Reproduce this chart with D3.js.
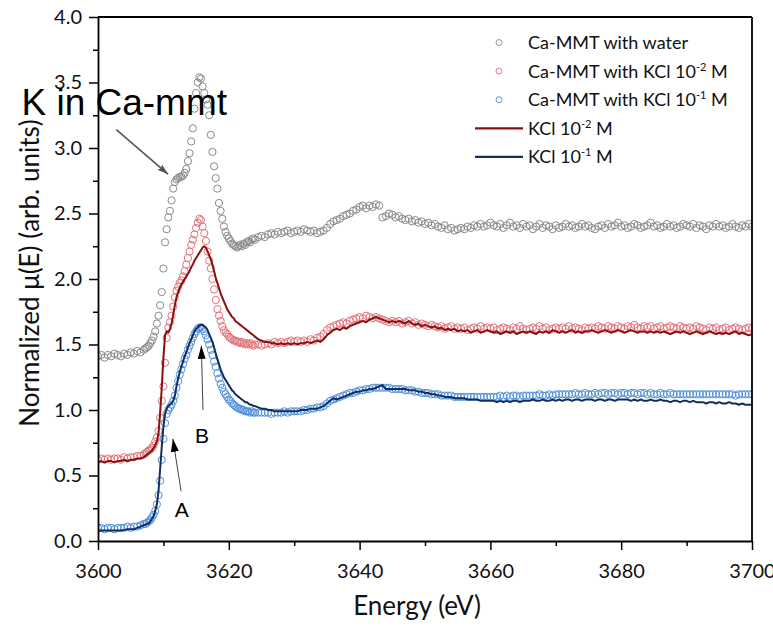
<!DOCTYPE html>
<html><head><meta charset="utf-8">
<script src="https://cdn.jsdelivr.net/npm/d3@7"></script>
<style>body{margin:0;background:#fff;} svg{display:block;}</style>
</head><body>
<svg id="chart" width="773" height="629"></svg>
<script>
// ---------------- DATA ----------------
const energy = [
3600,3600.5,3601,3601.5,3602,3602.5,3603,3603.5,3604,3604.5,3605,3605.5,3606,3606.5,3607,
3607.25,3607.5,3607.75,3608,
3608.25,3608.5,3608.75,3609,
3609.25,3609.5,3609.75,3610,
3610.25,3610.5,3610.75,3611,
3611.25,3611.5,3611.75,3612,
3612.25,3612.5,3612.75,3613,
3613.25,3613.5,3613.75,3614,
3614.25,3614.5,3614.75,3615,
3615.25,3615.5,3615.75,3616,
3616.25,3616.5,3616.75,3617,
3617.25,3617.5,3617.75,3618,
3618.25,3618.5,3618.75,3619,
3619.25,3619.5,3619.75,3620,
3620.25,3620.5,3620.75,3621,
3621.25,3621.5,3621.75,3622,
3622.25,3622.5,3622.75,3623,
3623.25,3623.5,3623.75,3624,
3624.5,3625,
3625.5,3626,3626.5,3627,3627.5,3628,3628.5,3629,3629.5,3630,
3630.5,3631,3631.5,3632,3632.5,3633,3633.5,3634,3634.5,3635,
3635.5,3636,3636.5,3637,3637.5,3638,3638.5,3639,3639.5,3640,
3640.5,3641,3641.5,3642,3642.5,3643,3643.5,3644,3644.5,3645,
3645.5,3646,3646.5,3647,3647.5,3648,3648.5,3649,3649.5,3650,
3650.5,3651,3651.5,3652,3652.5,3653,3653.5,3654,3654.5,3655,
3655.5,3656,3656.5,3657,3657.5,3658,3658.5,3659,3659.5,3660,
3660.5,3661,3661.5,3662,3662.5,3663,3663.5,3664,3664.5,3665,
3665.5,3666,3666.5,3667,3667.5,3668,3668.5,3669,3669.5,3670,
3670.5,3671,3671.5,3672,3672.5,3673,3673.5,3674,3674.5,3675,
3675.5,3676,3676.5,3677,3677.5,3678,3678.5,3679,3679.5,3680,
3680.5,3681,3681.5,3682,3682.5,3683,3683.5,3684,3684.5,3685,
3685.5,3686,3686.5,3687,3687.5,3688,3688.5,3689,3689.5,3690,
3690.5,3691,3691.5,3692,3692.5,3693,3693.5,3694,3694.5,3695,
3695.5,3696,3696.5,3697,3697.5,3698,3698.5,3699,3699.5,3700
];

// Ca-MMT with water (grey circles)
const waterPts = [
1.41,1.42,1.40,1.42,1.41,1.43,1.42,1.41,1.43,1.42,1.44,1.43,1.45,1.44,1.46,
1.47,1.48,1.49,1.51,
1.53,1.56,1.60,1.66,
1.72,1.80,1.90,2.08,
2.28,2.38,2.47,2.52,
2.60,2.69,2.74,2.76,
2.77,2.78,2.78,2.79,
2.81,2.84,2.90,2.96,
3.05,3.15,3.30,3.42,
3.50,3.54,3.53,3.47,
3.42,3.37,3.33,3.25,
3.10,2.97,2.86,2.77,
2.69,2.58,2.52,2.46,
2.40,2.36,2.33,2.31,
2.29,2.27,2.26,2.25,
2.24,2.25,2.26,2.25,
2.27,2.26,2.28,2.29,
2.28,2.30,2.31,2.30,
2.32,2.33,
2.32,2.34,2.35,2.34,2.36,2.35,2.36,2.37,2.35,2.36,
2.37,2.36,2.38,2.37,2.36,2.37,2.35,2.36,2.37,2.39,
2.42,2.44,2.45,2.46,2.48,2.49,2.50,2.52,2.53,2.55,
2.56,2.54,2.56,2.55,2.57,2.56,2.47,2.48,2.50,2.49,
2.47,2.48,2.46,2.45,2.46,2.44,2.45,2.43,2.44,2.42,
2.43,2.41,2.42,2.40,2.39,2.41,2.38,2.39,2.37,2.38,
2.39,2.38,2.40,2.39,2.41,2.40,2.42,2.40,2.41,2.43,
2.41,2.40,2.42,2.39,2.41,2.43,2.40,2.41,2.39,2.42,
2.40,2.41,2.38,2.40,2.42,2.39,2.41,2.40,2.38,2.41,
2.39,2.40,2.42,2.40,2.41,2.39,2.40,2.42,2.40,2.41,
2.39,2.38,2.40,2.41,2.39,2.42,2.40,2.41,2.43,2.40,
2.41,2.39,2.40,2.42,2.41,2.39,2.40,2.41,2.43,2.40,
2.41,2.39,2.40,2.42,2.40,2.41,2.39,2.40,2.42,2.41,
2.40,2.42,2.39,2.41,2.40,2.38,2.41,2.40,2.42,2.40,
2.41,2.39,2.40,2.42,2.40,2.39,2.41,2.40,2.42,2.40
];

// Ca-MMT with KCl 10^-2 M (light red circles)
const kcl2Pts = [
0.62,0.63,0.62,0.63,0.62,0.63,0.63,0.62,0.64,0.63,0.64,0.64,0.65,0.65,0.66,
0.67,0.68,0.69,0.70,
0.71,0.73,0.76,0.79,
0.84,0.94,1.07,1.18,
1.36,1.55,1.63,1.67,
1.72,1.79,1.86,1.91,
1.94,1.97,1.99,2.02,
2.06,2.11,2.16,2.21,
2.26,2.30,2.34,2.39,
2.43,2.46,2.45,2.40,
2.35,2.29,2.21,2.14,
2.08,2.00,1.92,1.84,
1.77,1.72,1.68,1.64,
1.61,1.59,1.58,1.56,
1.55,1.54,1.53,1.53,
1.52,1.52,1.51,1.52,
1.51,1.50,1.51,1.50,
1.51,1.50,1.49,1.50,
1.50,1.49,
1.50,1.51,1.50,1.52,1.51,1.52,1.51,1.52,1.53,1.52,
1.53,1.52,1.53,1.52,1.54,1.53,1.55,1.56,1.58,1.61,
1.63,1.64,1.65,1.66,1.67,1.66,1.68,1.69,1.70,1.71,
1.70,1.72,1.71,1.70,1.71,1.70,1.69,1.68,1.67,1.68,
1.67,1.68,1.66,1.67,1.68,1.66,1.67,1.65,1.66,1.65,
1.64,1.65,1.64,1.63,1.64,1.62,1.63,1.64,1.62,1.63,
1.62,1.63,1.61,1.62,1.63,1.62,1.64,1.62,1.63,1.62,
1.63,1.61,1.62,1.63,1.62,1.61,1.63,1.62,1.64,1.62,
1.61,1.62,1.63,1.62,1.64,1.62,1.63,1.61,1.62,1.63,
1.62,1.63,1.62,1.64,1.62,1.63,1.62,1.61,1.63,1.62,
1.63,1.62,1.64,1.63,1.62,1.64,1.63,1.62,1.64,1.63,
1.62,1.64,1.63,1.65,1.63,1.62,1.64,1.63,1.64,1.62,
1.63,1.64,1.62,1.63,1.64,1.63,1.62,1.64,1.63,1.62,
1.63,1.62,1.64,1.63,1.62,1.61,1.63,1.62,1.63,1.61,
1.62,1.63,1.61,1.62,1.63,1.62,1.61,1.62,1.63,1.62
];

// Ca-MMT with KCl 10^-1 M (light blue circles)
const kcl1Pts = [
0.10,0.10,0.09,0.10,0.10,0.09,0.10,0.10,0.10,0.11,0.10,0.11,0.11,0.12,0.13,
0.13,0.14,0.15,0.16,
0.18,0.20,0.23,0.28,
0.35,0.46,0.62,0.78,
0.90,0.97,1.00,1.02,
1.04,1.07,1.11,1.17,
1.22,1.27,1.31,1.35,
1.39,1.42,1.46,1.49,
1.52,1.55,1.58,1.60,
1.62,1.63,1.63,1.62,
1.60,1.57,1.54,1.50,
1.46,1.42,1.37,1.33,
1.28,1.24,1.20,1.17,
1.14,1.12,1.10,1.08,
1.07,1.05,1.04,1.03,
1.02,1.01,1.01,1.00,
1.00,0.99,0.99,0.99,
0.98,0.99,0.98,0.98,
0.98,0.98,
0.98,0.98,0.97,0.98,0.98,0.98,0.99,0.98,0.99,0.99,
0.99,0.99,1.00,1.00,1.01,1.01,1.02,1.02,1.03,1.05,
1.07,1.08,1.09,1.10,1.11,1.12,1.13,1.13,1.14,1.15,
1.15,1.16,1.16,1.17,1.17,1.17,1.17,1.17,1.17,1.16,
1.16,1.16,1.16,1.15,1.15,1.15,1.14,1.14,1.13,1.13,
1.13,1.12,1.12,1.12,1.11,1.11,1.11,1.11,1.10,1.10,
1.10,1.10,1.10,1.10,1.10,1.10,1.10,1.10,1.10,1.10,
1.10,1.10,1.11,1.10,1.11,1.10,1.11,1.11,1.10,1.11,
1.11,1.11,1.11,1.11,1.12,1.11,1.11,1.12,1.11,1.12,
1.12,1.12,1.12,1.12,1.12,1.13,1.12,1.12,1.13,1.12,
1.12,1.13,1.12,1.13,1.13,1.12,1.13,1.13,1.12,1.13,
1.13,1.12,1.13,1.13,1.12,1.13,1.13,1.12,1.13,1.12,
1.12,1.13,1.12,1.12,1.13,1.12,1.12,1.12,1.12,1.12,
1.12,1.12,1.12,1.12,1.12,1.12,1.12,1.12,1.12,1.12,
1.12,1.12,1.12,1.12,1.11,1.12,1.12,1.12,1.12,1.12
];

// KCl 10^-2 M (dark red line)
const kcl2Line = [
0.60,0.61,0.60,0.61,0.61,0.60,0.61,0.61,0.62,0.61,0.62,0.62,0.63,0.63,0.64,
0.65,0.66,0.67,0.68,
0.69,0.71,0.73,0.76,
0.82,0.98,1.17,1.40,
1.57,1.60,1.59,1.62,
1.66,1.73,1.80,1.86,
1.90,1.93,1.96,1.98,
2.00,2.02,2.04,2.06,
2.09,2.11,2.14,2.16,
2.18,2.20,2.22,2.24,
2.25,2.24,2.21,2.18,
2.15,2.11,2.06,2.01,
1.97,1.93,1.89,1.86,
1.83,1.80,1.77,1.75,
1.73,1.71,1.70,1.68,
1.67,1.66,1.65,1.64,
1.63,1.62,1.61,1.60,
1.59,1.58,1.57,1.56,
1.54,1.53,
1.52,1.52,1.51,1.51,1.50,1.51,1.50,1.51,1.50,1.51,
1.50,1.51,1.51,1.52,1.51,1.52,1.53,1.52,1.54,1.57,
1.59,1.61,1.62,1.61,1.63,1.62,1.64,1.65,1.66,1.67,
1.68,1.67,1.69,1.70,1.71,1.70,1.69,1.68,1.67,1.68,
1.67,1.68,1.67,1.66,1.68,1.66,1.65,1.66,1.64,1.65,
1.64,1.63,1.64,1.62,1.63,1.61,1.62,1.61,1.62,1.60,
1.61,1.60,1.61,1.59,1.60,1.61,1.59,1.60,1.61,1.60,
1.59,1.60,1.58,1.59,1.60,1.59,1.60,1.58,1.59,1.60,
1.59,1.60,1.59,1.58,1.60,1.59,1.60,1.59,1.61,1.60,
1.59,1.60,1.59,1.60,1.61,1.59,1.60,1.59,1.60,1.60,
1.61,1.60,1.59,1.60,1.61,1.60,1.59,1.60,1.61,1.60,
1.59,1.60,1.61,1.60,1.59,1.60,1.60,1.59,1.60,1.59,
1.60,1.59,1.60,1.59,1.58,1.59,1.60,1.59,1.60,1.59,
1.58,1.59,1.60,1.59,1.58,1.59,1.60,1.59,1.58,1.59,
1.58,1.59,1.58,1.59,1.60,1.58,1.59,1.58,1.57,1.58
];

// KCl 10^-1 M (dark blue line)
const kcl1Line = [
0.08,0.08,0.08,0.08,0.08,0.08,0.08,0.08,0.085,0.09,0.09,0.09,0.10,0.11,0.12,
0.125,0.13,0.135,0.15,
0.17,0.19,0.23,0.28,
0.38,0.55,0.72,0.87,
0.97,1.01,1.03,1.04,
1.05,1.07,1.11,1.18,
1.24,1.29,1.33,1.37,
1.41,1.44,1.48,1.51,
1.54,1.57,1.60,1.62,
1.63,1.645,1.65,1.65,
1.64,1.63,1.61,1.58,
1.55,1.52,1.48,1.43,
1.39,1.35,1.31,1.28,
1.25,1.23,1.21,1.19,
1.17,1.15,1.14,1.12,
1.11,1.10,1.09,1.08,
1.07,1.06,1.06,1.05,
1.04,1.04,1.03,1.03,
1.02,1.01,
1.01,1.00,1.00,0.99,0.99,0.99,0.99,0.99,0.99,0.99,
0.99,1.00,1.00,1.00,1.01,1.01,1.01,1.02,1.03,1.05,
1.07,1.09,1.08,1.09,1.10,1.11,1.12,1.13,1.14,1.14,
1.15,1.15,1.16,1.16,1.17,1.18,1.19,1.16,1.16,1.16,
1.16,1.16,1.16,1.16,1.15,1.15,1.15,1.14,1.14,1.13,
1.13,1.12,1.12,1.11,1.11,1.10,1.10,1.10,1.09,1.09,
1.09,1.09,1.08,1.08,1.08,1.08,1.07,1.07,1.07,1.07,
1.07,1.06,1.07,1.06,1.07,1.06,1.07,1.07,1.06,1.07,
1.07,1.07,1.08,1.07,1.07,1.08,1.07,1.07,1.08,1.07,
1.08,1.07,1.08,1.08,1.07,1.08,1.08,1.07,1.08,1.08,
1.08,1.07,1.08,1.08,1.07,1.08,1.08,1.07,1.08,1.08,
1.08,1.08,1.07,1.08,1.07,1.08,1.07,1.07,1.08,1.07,
1.07,1.08,1.07,1.07,1.06,1.07,1.07,1.06,1.07,1.07,
1.06,1.07,1.06,1.06,1.06,1.05,1.06,1.06,1.05,1.06,
1.05,1.05,1.06,1.05,1.05,1.04,1.05,1.04,1.04,1.04
];

const xTicks = [3600, 3620, 3640, 3660, 3680, 3700];
const xMinorTicks = [3610, 3630, 3650, 3670, 3690];
const yTicks = [0, 0.5, 1.0, 1.5, 2.0, 2.5, 3.0, 3.5, 4.0];
const yMinorTicks = [0.25, 0.75, 1.25, 1.75, 2.25, 2.75, 3.25, 3.75];

const legendItems = [
  {type: "circle", series: "water", text: "Ca-MMT with water", sup: null, tail: null},
  {type: "circle", series: "kcl2p", text: "Ca-MMT with KCl 10", sup: "-2", tail: " M"},
  {type: "circle", series: "kcl1p", text: "Ca-MMT with KCl 10", sup: "-1", tail: " M"},
  {type: "line",   series: "kcl2l", text: "KCl 10", sup: "-2", tail: " M"},
  {type: "line",   series: "kcl1l", text: "KCl 10", sup: "-1", tail: " M"}
];

// ---------------- DRAWING ----------------
const colors = {
  water: "#8a8a8a",
  kcl2p: "#e4727a",
  kcl1p: "#4f8fdc",
  kcl2l: "#8a0f0f",
  kcl1l: "#112f5e"
};

const svg = d3.select("#chart");
const W = 773, H = 629;
const m = {left: 98, right: 752, top: 17, bottom: 541};

svg.append("rect").attr("width", W).attr("height", H).attr("fill", "#fff");

const x = d3.scaleLinear().domain([3600, 3700]).range([m.left, m.right]);
const y = d3.scaleLinear().domain([0, 4]).range([m.bottom, m.top]);

svg.append("defs").append("clipPath").attr("id", "plotclip")
  .append("rect").attr("x", m.left).attr("y", m.top)
  .attr("width", m.right - m.left).attr("height", m.bottom - m.top);

const plot = svg.append("g").attr("clip-path", "url(#plotclip)");

function drawCircles(vals, color) {
  plot.append("g").selectAll("circle")
    .data(vals.map((v, i) => [energy[i], v]).filter(d => d[0] !== undefined && d[1] !== undefined))
    .join("circle")
    .attr("cx", d => x(d[0]))
    .attr("cy", d => y(d[1]))
    .attr("r", 3.6)
    .attr("fill", "none")
    .attr("stroke", color)
    .attr("stroke-width", 1);
}
drawCircles(waterPts, colors.water);
drawCircles(kcl2Pts, colors.kcl2p);
drawCircles(kcl1Pts, colors.kcl1p);

const lineGen = d3.line().x(d => x(d[0])).y(d => y(d[1]));
function drawLine(vals, color) {
  plot.append("path")
    .datum(vals.map((v, i) => [energy[i], v]).filter(d => d[0] !== undefined))
    .attr("d", lineGen)
    .attr("fill", "none")
    .attr("stroke", color)
    .attr("stroke-width", 2)
    .attr("stroke-linejoin", "round");
}
drawLine(kcl2Line, colors.kcl2l);
drawLine(kcl1Line, colors.kcl1l);

// Axes
const tickFont = "Lato, 'Open Sans', sans-serif";
const xAxisG = svg.append("g").attr("transform", `translate(0,${m.bottom})`);
xAxisG.call(d3.axisBottom(x).tickValues(xMinorTicks).tickSize(5).tickSizeOuter(0).tickFormat(""));
xAxisG.call(g => g.select(".domain").remove());
svg.append("g").attr("transform", `translate(0,${m.bottom})`)
  .call(d3.axisBottom(x).tickValues(xTicks).tickSize(9).tickSizeOuter(0).tickPadding(14).tickFormat(d3.format("d")));

const yAxisG = svg.append("g").attr("transform", `translate(${m.left},0)`);
yAxisG.call(d3.axisLeft(y).tickValues(yMinorTicks).tickSize(5).tickSizeOuter(0).tickFormat(""));
yAxisG.call(g => g.select(".domain").remove());
svg.append("g").attr("transform", `translate(${m.left},0)`)
  .call(d3.axisLeft(y).tickValues(yTicks).tickSize(9).tickSizeOuter(0).tickPadding(7).tickFormat(d3.format(".1f")));

svg.selectAll(".tick line").attr("stroke", "#000").attr("stroke-width", 1.5);
svg.selectAll(".domain").attr("stroke", "#000").attr("stroke-width", 1.8);
svg.selectAll(".tick text").attr("font-family", tickFont).attr("font-size", 20).attr("fill", "#111");

// top & right frame
svg.append("line").attr("x1", m.left).attr("x2", m.right).attr("y1", m.top).attr("y2", m.top)
  .attr("stroke", "#000").attr("stroke-width", 1.8);
svg.append("line").attr("x1", m.right).attr("x2", m.right).attr("y1", m.top).attr("y2", m.bottom)
  .attr("stroke", "#000").attr("stroke-width", 1.8);

// Axis titles
svg.append("text").attr("x", (m.left + m.right) / 2 - 8).attr("y", 615)
  .attr("text-anchor", "middle").attr("font-family", tickFont).attr("font-size", 26).attr("fill", "#111")
  .text("Energy (eV)");
svg.append("text").attr("transform", `translate(39,273) rotate(-90)`)
  .attr("text-anchor", "middle").attr("font-family", tickFont).attr("font-size", 26).attr("fill", "#111")
  .text("Normalized \u03BC(E) (arb. units)");

// Legend
const leg = svg.append("g");
legendItems.forEach((it, i) => {
  const yy = 42.5 + i * 28.6;
  if (it.type === "circle") {
    leg.append("circle").attr("cx", 499).attr("cy", yy).attr("r", 3)
      .attr("fill", "none").attr("stroke", colors[it.series]).attr("stroke-width", 0.9);
  } else {
    leg.append("line").attr("x1", 475).attr("x2", 523).attr("y1", yy).attr("y2", yy)
      .attr("stroke", colors[it.series]).attr("stroke-width", 2.2);
  }
  const t = leg.append("text").attr("x", 528).attr("y", yy + 6.5)
    .attr("font-family", tickFont).attr("font-size", 18).attr("fill", "#111");
  t.append("tspan").text(it.text);
  if (it.sup) {
    t.append("tspan").attr("font-size", 11).attr("dy", -7).text(it.sup);
    t.append("tspan").attr("dy", 7).text(it.tail);
  }
});

// Annotations
const defs = svg.select("defs");
defs.append("marker").attr("id", "headBlack").attr("markerUnits", "userSpaceOnUse")
  .attr("markerWidth", 14).attr("markerHeight", 8).attr("refX", 13).attr("refY", 4).attr("orient", "auto")
  .append("path").attr("d", "M0,0 L13,4 L0,8 Z").attr("fill", "#000");
defs.append("marker").attr("id", "headGrey").attr("markerUnits", "userSpaceOnUse")
  .attr("markerWidth", 12).attr("markerHeight", 8).attr("refX", 11).attr("refY", 4).attr("orient", "auto")
  .append("path").attr("d", "M0,0.5 L11,4 L0,7.5 L2,4 Z").attr("fill", "#555");

const annFont = "'Liberation Sans', Arial, sans-serif";
svg.append("text").attr("x", x(3588.3)).attr("y", y(3.25))
  .attr("font-family", annFont).attr("font-size", 37).attr("fill", "#000").text("K in Ca-mmt");
svg.append("line").attr("x1", x(3602.8)).attr("y1", y(3.14)).attr("x2", x(3610.7)).attr("y2", y(2.80))
  .attr("stroke", "#555").attr("stroke-width", 1.6).attr("marker-end", "url(#headGrey)");

svg.append("line").attr("x1", x(3612.7)).attr("y1", y(0.38)).attr("x2", x(3611.45)).attr("y2", y(0.78))
  .attr("stroke", "#444").attr("stroke-width", 1).attr("marker-end", "url(#headBlack)");
svg.append("text").attr("x", x(3612.8)).attr("y", y(0.183)).attr("text-anchor", "middle")
  .attr("font-family", annFont).attr("font-size", 21).attr("fill", "#000").text("A");

svg.append("line").attr("x1", x(3616.05)).attr("y1", y(1.0)).attr("x2", x(3615.8)).attr("y2", y(1.49))
  .attr("stroke", "#444").attr("stroke-width", 1).attr("marker-end", "url(#headBlack)");
svg.append("text").attr("x", x(3615.9)).attr("y", y(0.748)).attr("text-anchor", "middle")
  .attr("font-family", annFont).attr("font-size", 21).attr("fill", "#000").text("B");

// sanity check of array lengths
const lens = [energy, waterPts, kcl2Pts, kcl1Pts, kcl2Line, kcl1Line].map(a => a.length);
if (new Set(lens).size !== 1) throw new Error("length mismatch " + lens.join(","));
</script>
</body></html>
